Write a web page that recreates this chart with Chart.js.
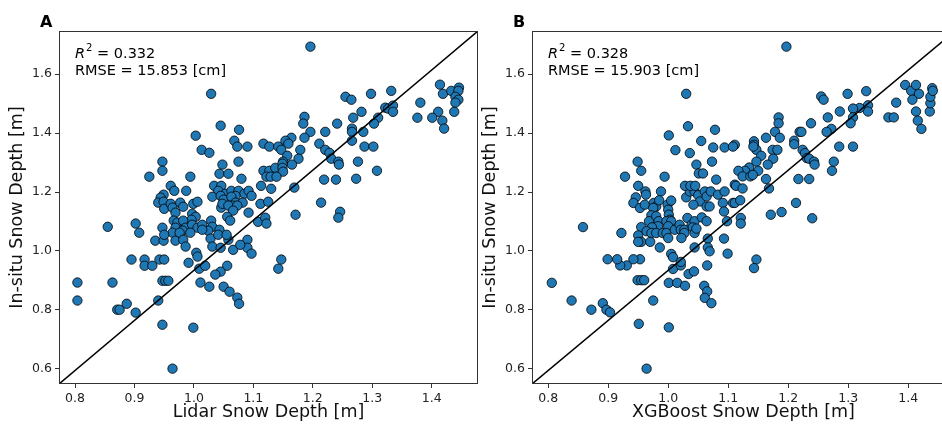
<!DOCTYPE html>
<html>
<head>
<meta charset="utf-8">
<script src="https://cdn.jsdelivr.net/npm/chart.js@4.4.0/dist/chart.umd.min.js"></script>
<style>
  html, body { margin: 0; padding: 0; width: 942px; height: 426px; overflow: hidden; background: #fff; }
  body { position: relative; }
  .panel { position: absolute; top: 0; height: 426px; }
</style>
</head>
<body>
<div class="panel" style="left:0;width:490px"><canvas id="chartA" width="490" height="426"></canvas></div>
<div class="panel" style="left:473px;width:494px"><canvas id="chartB" width="494" height="426"></canvas></div>
<script>
// axis limits and ticks (same for both panels)
const xLimits = [0.773, 1.478];
const yLimits = [0.549, 1.746];
const xTicks = [0.8, 0.9, 1.0, 1.1, 1.2, 1.3, 1.4];
const yTicks = [0.6, 0.8, 1.0, 1.2, 1.4, 1.6];

// panel A: lidar snow depth vs in-situ snow depth [m]
const lidarDepth = [
  0.804, 0.804, 0.855, 0.863, 0.871, 0.875, 0.887, 0.902, 0.895, 0.917, 0.917, 0.902, 0.908, 0.925,
  0.947, 0.947, 0.994, 0.961, 0.967, 0.987, 0.949, 0.944, 0.940, 0.949, 0.950, 0.961, 0.964, 0.969,
  0.977, 0.982, 0.999, 1.006, 0.997, 1.003, 0.996, 0.966, 0.972, 0.969, 0.982, 0.986, 0.981, 0.997,
  1.006, 0.947, 0.964, 0.969, 0.976, 0.982, 0.994, 0.935, 0.949, 0.950, 0.986, 1.004, 1.006, 0.991,
  1.009, 0.942, 0.950, 0.930, 0.947, 0.952, 0.957, 1.011, 0.940, 0.947, 0.999, 0.964,
  1.003, 1.013, 1.026, 1.029, 1.045, 1.076, 1.068, 1.073, 1.090, 1.048, 1.075, 1.043, 1.058, 1.080,
  1.034, 1.046, 1.041, 1.053, 1.063, 1.075, 1.085, 1.092, 1.097, 1.031, 1.045, 1.070, 1.050, 1.063,
  1.070, 1.082, 1.046, 1.065, 1.048, 1.058, 1.073, 1.066, 1.092, 1.112, 1.125, 1.029, 1.031, 1.024,
  1.028, 1.043, 1.041, 1.056, 1.061, 1.058, 1.055, 1.031, 1.090, 1.090, 1.066, 1.078, 1.014, 1.014,
  1.108, 1.120, 1.122, 1.045, 1.097, 1.147, 1.142, 1.019, 1.056, 1.045, 1.036, 1.026, 1.050, 1.060,
  1.073, 1.076,
  1.196, 1.186, 1.184, 1.241, 1.221, 1.196, 1.164, 1.186, 1.154, 1.159, 1.117, 1.127, 1.142, 1.147,
  1.211, 1.179, 1.157, 1.221, 1.228, 1.231, 1.243, 1.244, 1.176, 1.150, 1.165, 1.117, 1.127, 1.137,
  1.149, 1.149, 1.150, 1.122, 1.129, 1.139, 1.219, 1.239, 1.113, 1.130, 1.169, 1.214, 1.246, 1.243,
  1.171,
  1.255, 1.414, 1.419, 1.433, 1.446, 1.445, 1.440, 1.445, 1.440, 1.438, 1.411, 1.401, 1.418, 1.421,
  1.381, 1.376, 1.332, 1.298, 1.265, 1.282, 1.268, 1.322, 1.327, 1.335, 1.335, 1.310, 1.303, 1.266,
  1.266, 1.285, 1.266, 1.287, 1.302, 1.276, 1.308, 1.273
];
const insituA = [
  0.893, 0.832, 1.082, 0.893, 0.801, 0.801, 0.821, 0.791, 0.971, 0.971, 0.950, 1.093, 1.062, 1.252,
  1.303, 1.272, 1.252, 1.221, 1.204, 1.204, 1.191, 1.181, 1.164, 1.167, 1.143, 1.160, 1.147, 1.130,
  1.164, 1.150, 1.160, 1.167, 1.126, 1.116, 1.106, 1.103, 1.096, 1.079, 1.103, 1.079, 1.069, 1.089,
  1.079, 1.079, 1.062, 1.035, 1.062, 1.038, 1.062, 1.035, 1.035, 1.055, 1.015, 0.994, 0.981, 0.960,
  0.940, 0.971, 0.971, 0.950, 0.899, 0.899, 0.899, 0.893, 0.832, 0.750, 0.740, 0.601,
  1.391, 1.343, 1.333, 1.533, 1.425, 1.411, 1.374, 1.354, 1.354, 1.293, 1.303, 1.262, 1.262, 1.245,
  1.221, 1.221, 1.204, 1.194, 1.204, 1.204, 1.194, 1.204, 1.187, 1.184, 1.187, 1.187, 1.174, 1.184,
  1.164, 1.164, 1.147, 1.154, 1.160, 1.154, 1.154, 1.137, 1.130, 1.160, 1.167, 1.103, 1.082, 1.069,
  1.042, 1.072, 1.055, 1.116, 1.103, 1.038, 1.055, 1.015, 1.038, 1.011, 1.004, 1.021, 1.089, 1.072,
  1.099, 1.113, 1.093, 1.011, 0.991, 0.971, 0.940, 0.950, 0.950, 0.930, 0.920, 0.879, 0.879, 0.862,
  0.842, 0.821,
  1.693, 1.455, 1.432, 1.432, 1.404, 1.404, 1.384, 1.384, 1.374, 1.364, 1.364, 1.354, 1.354, 1.343,
  1.364, 1.343, 1.323, 1.343, 1.333, 1.313, 1.303, 1.293, 1.313, 1.303, 1.293, 1.272, 1.272, 1.282,
  1.296, 1.282, 1.269, 1.252, 1.252, 1.252, 1.242, 1.242, 1.221, 1.211, 1.215, 1.164, 1.133, 1.113,
  1.123,
  1.523, 1.564, 1.533, 1.543, 1.554, 1.543, 1.523, 1.513, 1.503, 1.472, 1.472, 1.452, 1.442, 1.415,
  1.503, 1.452, 1.543, 1.533, 1.513, 1.472, 1.452, 1.486, 1.483, 1.493, 1.472, 1.452, 1.432, 1.415,
  1.404, 1.404, 1.374, 1.354, 1.354, 1.303, 1.272, 1.245
];

// panel B: XGBoost snow depth vs in-situ snow depth [m]
const xgbDepth = [
  1.030, 1.033, 1.001, 1.055, 1.078, 1.012, 1.036, 1.075, 1.094, 1.111, 0.949, 0.955, 1.047, 1.073,
  1.051, 1.058, 0.928, 0.994, 1.080, 0.950, 0.962, 0.963, 0.988, 0.946, 0.942, 0.953, 0.961, 0.976,
  0.980, 0.975, 0.985, 0.972, 0.968, 0.980, 0.955, 0.984, 0.983, 0.973, 0.964, 0.972, 0.950, 0.955,
  0.950, 0.970, 0.980, 0.991, 0.986, 0.999, 1.005, 1.000, 1.001, 1.003, 0.997, 1.005, 1.000, 0.997,
  1.000, 1.011, 1.019, 1.021, 1.027, 1.032, 1.039, 1.044, 1.041, 1.027, 1.022, 1.044, 1.047, 1.030,
  1.036, 1.044, 1.050, 1.053, 1.042, 1.028, 1.037, 1.045, 1.061, 1.064, 1.071, 1.064, 1.069, 1.056,
  1.064, 1.083, 1.094, 1.091, 1.093, 1.098, 1.108, 1.111, 1.044, 1.066, 1.066, 1.069, 1.093, 1.099,
  1.065, 1.005, 1.008, 1.008, 1.021, 1.021, 1.034, 1.043, 1.001, 1.015, 1.028, 1.060, 1.065, 1.061,
  1.072, 1.001, 0.964, 0.951, 0.975, 0.949, 0.955, 0.960, 0.953, 0.942, 0.931, 0.920, 0.915, 0.899,
  0.922, 0.858, 0.806, 0.839, 0.872, 0.891, 0.897, 0.903,
  1.197, 1.255, 1.259, 1.299, 1.330, 1.395, 1.405, 1.413, 1.418, 1.407, 1.413, 1.416, 1.422, 1.436,
  1.437, 1.437, 1.440, 1.441, 1.380, 1.367, 1.376, 1.333, 1.333, 1.319, 1.308, 1.308, 1.304, 1.286,
  1.266, 1.272, 1.264, 1.238, 1.219, 1.222, 1.210, 1.210, 1.184, 1.184, 1.178, 1.186, 1.163, 1.143,
  1.143, 1.147, 1.142, 1.108, 1.174, 1.182, 1.175, 1.155, 1.147, 1.166, 1.135, 1.128, 1.117, 1.124,
  1.137, 1.150, 1.141, 1.163, 1.113, 1.124, 1.168, 1.111, 1.120, 1.121, 1.121, 1.147, 1.143, 1.171,
  1.189, 1.213, 1.217, 1.235, 1.240, 1.224, 1.228, 1.231, 1.235, 1.243, 1.244, 1.273, 1.276, 1.285,
  1.308
];
const insituB = [
  1.533, 1.423, 1.392, 1.373, 1.411, 1.342, 1.332, 1.351, 1.351, 1.360, 1.303, 1.272, 1.293, 1.303,
  1.263, 1.263, 1.252, 1.252, 1.242, 1.221, 1.202, 1.191, 1.202, 1.182, 1.163, 1.146, 1.157, 1.163,
  1.151, 1.146, 1.172, 1.121, 1.101, 1.118, 1.081, 1.101, 1.084, 1.080, 1.067, 1.061, 1.053, 1.031,
  1.031, 1.031, 1.061, 1.061, 1.012, 1.157, 1.171, 1.140, 1.123, 1.106, 1.101, 1.101, 1.084, 1.061,
  1.044, 1.072, 1.089, 1.072, 1.072, 1.112, 1.089, 1.101, 1.080, 1.061, 1.044, 1.061, 1.076, 1.182,
  1.202, 1.202, 1.189, 1.168, 1.157, 1.221, 1.221, 1.221, 1.202, 1.185, 1.202, 1.151, 1.151, 1.114,
  1.101, 1.191, 1.202, 1.163, 1.134, 1.101, 1.163, 1.225, 1.012, 1.042, 1.012, 0.999, 1.042, 0.991,
  0.951, 0.990, 0.979, 0.939, 0.951, 0.963, 0.922, 0.931, 0.892, 0.892, 0.882, 0.882, 0.863, 0.841,
  0.823, 0.741, 0.601, 0.753, 0.832, 0.901, 0.901, 0.901, 0.972, 0.972, 0.951, 0.951, 0.972, 0.972,
  1.061, 1.081, 0.892, 0.832, 0.801, 0.823, 0.801, 0.792,
  1.693, 1.524, 1.513, 1.533, 1.542, 1.563, 1.543, 1.563, 1.533, 1.513, 1.473, 1.442, 1.414, 1.473,
  1.501, 1.523, 1.552, 1.543, 1.503, 1.453, 1.453, 1.494, 1.473, 1.485, 1.483, 1.453, 1.433, 1.473,
  1.453, 1.414, 1.404, 1.433, 1.404, 1.404, 1.374, 1.362, 1.453, 1.433, 1.404, 1.384, 1.384, 1.372,
  1.360, 1.343, 1.354, 1.354, 1.343, 1.343, 1.313, 1.323, 1.303, 1.293, 1.283, 1.272, 1.272, 1.253,
  1.253, 1.272, 1.258, 1.244, 1.221, 1.212, 1.212, 1.163, 1.172, 1.112, 1.093, 0.971, 0.942, 1.123,
  1.132, 1.163, 1.244, 1.244, 1.111, 1.343, 1.332, 1.315, 1.313, 1.303, 1.293, 1.272, 1.303, 1.354,
  1.354
];

const FONT = '"DejaVu Sans", sans-serif';

// box around the plot area, panel letter and the stats text
const panelDecor = {
  id: 'panelDecor',
  afterDraw(chart, args, opts) {
    const ctx = chart.ctx;
    const a = chart.chartArea;
    ctx.save();
    ctx.strokeStyle = '#333';
    ctx.lineWidth = 1;
    ctx.strokeRect(a.left + 0.5, a.top + 0.5, a.right - a.left - 1, a.bottom - a.top - 1);

    ctx.fillStyle = '#000';
    ctx.textBaseline = 'alphabetic';
    ctx.font = 'bold 16px ' + FONT;
    ctx.fillText(opts.label, a.left - 19, 27);

    const tx = a.left + 16;
    ctx.font = 'italic 14.5px ' + FONT;
    ctx.fillText('R', tx, 57.5);
    let w = ctx.measureText('R').width + 1;
    ctx.font = '10px ' + FONT;
    ctx.fillText('2', tx + w, 51);
    w += ctx.measureText('2').width;
    ctx.font = '14.5px ' + FONT;
    ctx.fillText(' = ' + opts.r2, tx + w, 57.5);
    ctx.fillText('RMSE = ' + opts.rmse + ' [cm]', tx, 75);
    ctx.restore();
  }
};

function makeChart(id, xs, ys, xTitle, label, r2, rmse) {
  const points = xs.map((x, i) => ({ x: x, y: ys[i] }));
  const ctx = document.getElementById(id).getContext('2d');
  return new Chart(ctx, {
    data: {
      datasets: [{
        type: 'line',
        data: [{ x: xLimits[0], y: yLimits[0] }, { x: xLimits[1], y: yLimits[1] }],
        borderColor: '#000',
        borderWidth: 1.5,
        pointRadius: 0,
        order: 0
      }, {
        type: 'scatter',
        data: points,
        backgroundColor: '#1f77b4',
        borderColor: '#000',
        borderWidth: 0.8,
        pointRadius: 4.7,
        order: 1
      }]
    },
    options: {
      responsive: false,
      animation: false,
      devicePixelRatio: 1,
      layout: { padding: { left: 0, right: 12, top: 31, bottom: 0 } },
      plugins: {
        legend: { display: false },
        tooltip: { enabled: false },
        panelDecor: { label: label, r2: r2, rmse: rmse }
      },
      scales: {
        x: {
          type: 'linear',
          min: xLimits[0],
          max: xLimits[1],
          afterBuildTicks: s => { s.ticks = xTicks.map(v => ({ value: v })); },
          afterFit: s => { s.height = 42; },
          ticks: {
            callback: v => v.toFixed(1),
            font: { family: FONT, size: 12.5 },
            color: '#222',
            padding: 3,
            maxRotation: 0,
            autoSkip: false
          },
          grid: { drawOnChartArea: false, drawTicks: true, tickLength: 4, color: '#333' },
          border: { display: false },
          title: {
            display: true,
            text: xTitle,
            font: { family: FONT, size: 17.5 },
            color: '#111',
            padding: { top: 0, bottom: 3 }
          }
        },
        y: {
          type: 'linear',
          min: yLimits[0],
          max: yLimits[1],
          afterBuildTicks: s => { s.ticks = yTicks.map(v => ({ value: v })); },
          afterFit: s => { s.width = 59; },
          ticks: {
            callback: v => v.toFixed(1),
            font: { family: FONT, size: 12.5 },
            color: '#222',
            padding: 3,
            autoSkip: false
          },
          grid: { drawOnChartArea: false, drawTicks: true, tickLength: 4, color: '#333' },
          border: { display: false },
          title: {
            display: true,
            text: 'In-situ Snow Depth [m]',
            font: { family: FONT, size: 17.5 },
            color: '#111',
            padding: { top: 7, bottom: 0 }
          }
        }
      }
    },
    plugins: [panelDecor]
  });
}

makeChart('chartA', lidarDepth, insituA, 'Lidar Snow Depth [m]', 'A', '0.332', '15.853');
makeChart('chartB', xgbDepth, insituB, 'XGBoost Snow Depth [m]', 'B', '0.328', '15.903');
</script>
</body>
</html>
